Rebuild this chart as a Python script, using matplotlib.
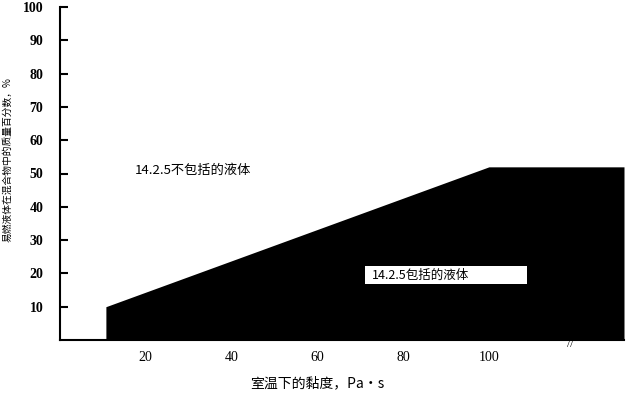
import matplotlib
matplotlib.use("Agg")
import matplotlib.pyplot as plt
from matplotlib.patches import Rectangle

plt.rcParams['font.family'] = ['Liberation Serif', 'Noto Sans CJK SC', 'DejaVu Sans']

# data
boundary_x = [10.7, 100, 131.5]
boundary_y = [10, 52, 52]
x_ticks = [20, 40, 60, 80, 100]
y_ticks = [10, 20, 30, 40, 50, 60, 70, 80, 90, 100]
label_excluded = "14.2.5不包括的液体"
label_included = "14.2.5包括的液体"
x_label = "室温下的黏度，Pa·s"
y_label = "易燃液体在混合物中的质量百分数，%"

fig = plt.figure(figsize=(6.29, 3.93), dpi=100)
ax = fig.add_axes([60/629, 53/393, 564/629, 333/393])
ax.set_xlim(0, 131.5)
ax.set_ylim(0, 100)

ax.fill_between(boundary_x, boundary_y, 0, color='black', linewidth=0)

for s in ['top', 'right']:
    ax.spines[s].set_visible(False)
ax.spines['left'].set_linewidth(1.5)
ax.spines['bottom'].set_linewidth(1.5)

ax.set_xticks(x_ticks)
ax.set_xticklabels([str(t) for t in x_ticks], fontsize=10)
ax.tick_params(axis='x', length=0, pad=8)
ax.set_yticks(y_ticks)
ax.set_yticklabels([str(t) for t in y_ticks], fontsize=10, fontweight='bold')
ax.tick_params(axis='y', direction='in', length=6, width=1.5, pad=12)

ax.text(17.5, 51, label_excluded, fontsize=9.5,
        family=['Noto Sans CJK SC', 'DejaVu Sans'], va='center', ha='left')
ax.add_patch(Rectangle((71.1, 16.8), 37.8, 5.4, facecolor='white', edgecolor='none', zorder=3))
ax.text(72.7, 19.5, label_included, fontsize=9, color='black', zorder=4,
        family=['Noto Sans CJK SC', 'DejaVu Sans'], va='center', ha='left')
ax.text(119, -1.5, "//", fontsize=8, ha='center', va='center', rotation=0)

ax.text(60, -13, x_label, fontsize=10, ha='center', va='center',
        family=['Noto Sans CJK SC', 'DejaVu Sans'], transform=ax.transData, clip_on=False)
fig.text(8/629, 1 - 160/393, y_label, fontsize=7, rotation=90, ha='center', va='center',
         family=['Noto Sans CJK SC', 'DejaVu Sans'])

fig.savefig("out.png", dpi=100)
